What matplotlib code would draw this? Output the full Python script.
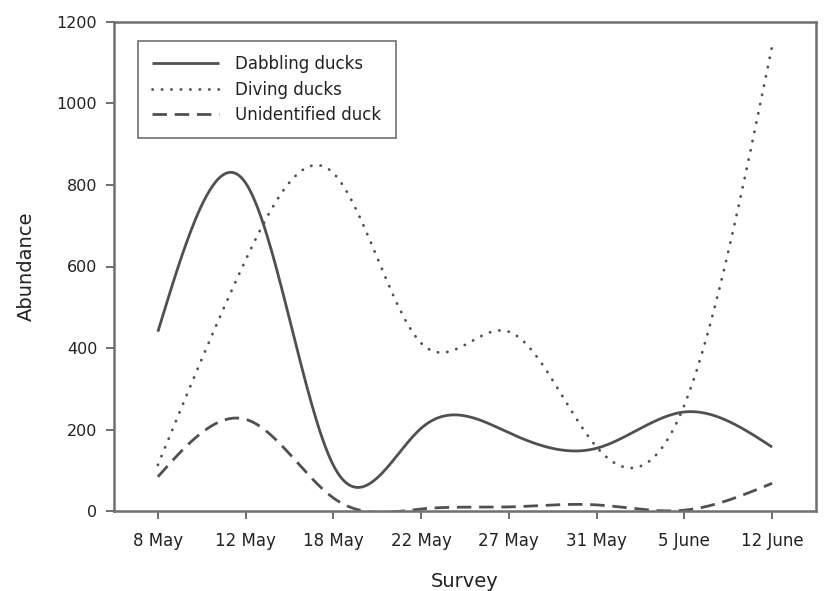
import numpy as np
import matplotlib
matplotlib.use("Agg")
import matplotlib.pyplot as plt

# survey dates and counts
surveys = ["8 May", "12 May", "18 May", "22 May", "27 May", "31 May", "5 June", "12 June"]
dabbling = [440, 805, 112, 203, 192, 154, 243, 157]
diving = [113, 616, 829, 412, 440, 157, 260, 1141]
unidentified = [84, 225, 32, 5, 10, 15, 2, 68]


def spline(y, n=400):
    # natural cubic spline through the survey points (smooth line look)
    y = np.asarray(y, dtype=float)
    k = len(y)
    A = np.zeros((k, k))
    b = np.zeros(k)
    A[0, 0] = A[-1, -1] = 1
    for i in range(1, k - 1):
        A[i, i - 1], A[i, i], A[i, i + 1] = 1, 4, 1
        b[i] = 6 * (y[i + 1] - 2 * y[i] + y[i - 1])
    m = np.linalg.solve(A, b)
    xs = np.linspace(0, k - 1, n)
    i = np.clip(np.floor(xs).astype(int), 0, k - 2)
    t = xs - i
    ys = ((1 - t) * y[i] + t * y[i + 1]
          + ((1 - t) ** 3 - (1 - t)) * m[i] / 6 + (t ** 3 - t) * m[i + 1] / 6)
    return xs, ys


fig = plt.figure(figsize=(8.24, 5.91), dpi=100)
ax = fig.add_axes([114 / 824, 1 - 511 / 591, 702 / 824, 489 / 591])

col = "#505050"
xs, ys = spline(dabbling)
ax.plot(xs, ys, color=col, lw=2.0, ls="-", label="Dabbling ducks", solid_capstyle="butt")
xs, ys = spline(diving)
ax.plot(xs, ys, color=col, lw=2.0, ls=(0, (0.1, 3.3)), dash_capstyle="round",
        label="Diving ducks")
xs, ys = spline(unidentified)
ax.plot(xs, ys, color=col, lw=2.0, ls=(0, (5.2, 2.8)), label="Unidentified duck")

ax.set_xlim(-0.5, 7.5)
ax.set_ylim(0, 1200)
ax.set_xticks(range(len(surveys)))
ax.set_xticklabels(surveys, fontsize=12)
ax.set_yticks(range(0, 1201, 200))
ax.tick_params(axis="y", labelsize=11.5, length=6, width=1.2, color="#555555", pad=6)
ax.tick_params(axis="x", length=6, width=1.2, color="#555555", pad=9)
ax.tick_params(top=False, right=False, direction="out", labelcolor="#222222")
for s in ax.spines.values():
    s.set_color("#707070")
    s.set_linewidth(1.8)

ax.set_xlabel("Survey", fontsize=14, color="#222222", labelpad=16)
ax.set_ylabel("Abundance", fontsize=14, color="#222222", labelpad=15)

leg = ax.legend(loc="upper left", bbox_to_anchor=(0.034, 0.961), borderaxespad=0,
                fontsize=12, fancybox=False, framealpha=1, edgecolor="#707070",
                handlelength=4.0, labelspacing=0.45, borderpad=0.85, handletextpad=1.0)
leg.get_frame().set_linewidth(1.2)
for t in leg.get_texts():
    t.set_color("#222222")

fig.savefig("out.png", dpi=100)
